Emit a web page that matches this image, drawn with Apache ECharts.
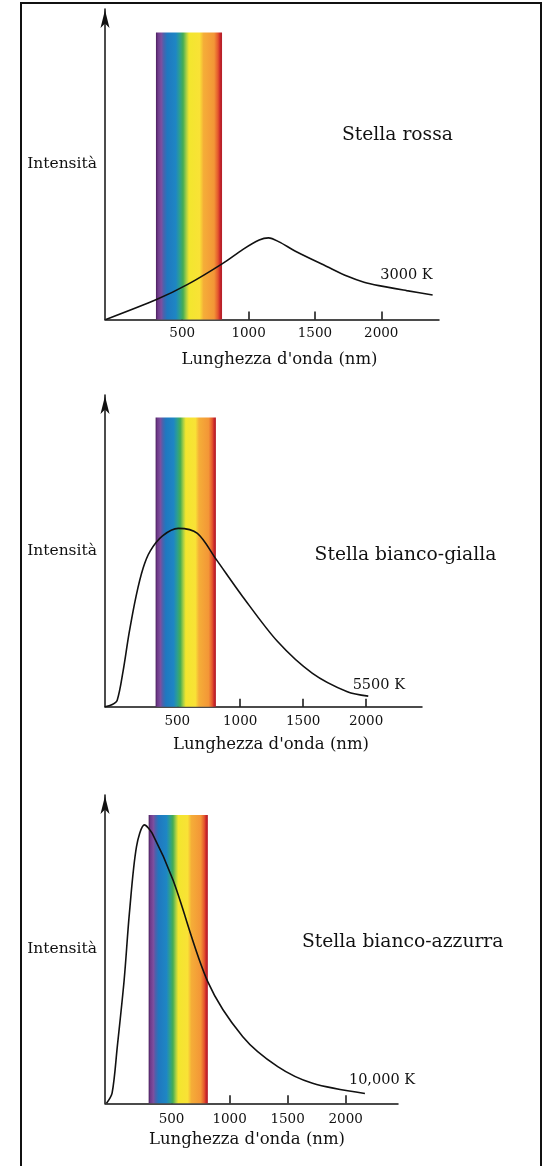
<!DOCTYPE html>
<html>
<head>
<meta charset="utf-8">
<title>Spettro di corpo nero</title>
<script src="https://cdn.jsdelivr.net/npm/echarts@6/dist/echarts.min.js"></script>
<style>
  html, body { margin: 0; padding: 0; background: #ffffff; }
  #chart { width: 545px; height: 1166px; }
</style>
</head>
<body>
<div id="chart"></div>
<script>
// Tick marks on every wavelength axis (nm)
const wavelengthTicks = [500, 1000, 1500, 2000];

// Stella rossa, 3000 K — wavelength (nm) and relative intensity
const redWavelength = [-75, 310, 541, 803, 958, 1080, 1150, 1230, 1353, 1589, 1746, 1870, 1982, 2191, 2387];
const redIntensity  = [0, 6.5, 11.3, 18.0, 22.6, 25.6, 26.3, 25.0, 22.0, 17.1, 13.9, 12.0, 10.9, 9.3, 7.9];
const redBand = [302, 800, 92.4];        // visible strip: from nm, to nm, height

// Stella bianco-gialla, 5500 K
const yellowWavelength = [-74, -20, 23, 70, 117, 173, 229, 286, 383, 508, 660, 812, 1020, 1297, 1574, 1851, 2017];
const yellowIntensity  = [0, 0.6, 2.1, 11.5, 23.5, 35.5, 44.5, 50.0, 54.8, 57.2, 55.6, 47.1, 35.3, 20.9, 10.7, 4.8, 3.4];
const yellowBand = [328, 807, 92.8];

// Stella bianco-azzurra, 10,000 K
const blueWavelength = [-60, -12, 33, 92, 137, 198, 267, 333, 513, 813, 1114, 1415, 1715, 2166];
const blueIntensity  = [0, 3.3, 18.4, 40.0, 61.6, 83.2, 90.3, 87.6, 72.4, 39.4, 21.6, 11.9, 6.5, 3.2];
const blueBand = [303, 813, 93.5];

const starNames = ['Stella rossa', 'Stella bianco-gialla', 'Stella bianco-azzurra'];
const temperatures = ['3000 K', '5500 K', '10,000 K'];
const axisTitleX = "Lunghezza d'onda (nm)";
const axisTitleY = 'Intensità';

const SERIF = "'DejaVu Serif', 'Liberation Serif', serif";
const INK = '#111111';

// Rainbow fill of the visible strip
const rainbow = new echarts.graphic.LinearGradient(0, 0, 1, 0, [
  { offset: 0.00, color: '#4a1f5c' },
  { offset: 0.03, color: '#6e3a8a' },
  { offset: 0.08, color: '#7d4f9f' },
  { offset: 0.12, color: '#4863ae' },
  { offset: 0.17, color: '#1f78c0' },
  { offset: 0.30, color: '#1e86c4' },
  { offset: 0.36, color: '#2d9f8f' },
  { offset: 0.41, color: '#45ac55' },
  { offset: 0.46, color: '#a8cf45' },
  { offset: 0.50, color: '#f2e62e' },
  { offset: 0.66, color: '#f9e236' },
  { offset: 0.72, color: '#f5ae38' },
  { offset: 0.88, color: '#f39637' },
  { offset: 0.94, color: '#e4562d' },
  { offset: 0.97, color: '#c9252b' },
  { offset: 1.00, color: '#b01f27' }
]);

function pairs(xs, ys) { return xs.map((x, i) => [x, ys[i]]); }

// Per-panel layout: plot box, axis span, text placement
const layout = [
  { grid: { left: 105, top: 9,   width: 334, height: 310.5 }, xRange: [-82, 2435],
    labelMargin: 7, nameGap: 32, namePad: [0, 0, 0, 15],
    endLabel: { align: 'right', offset: [0, -20] }, title: [342, 135] },
  { grid: { left: 105, top: 395, width: 317, height: 311.7 }, xRange: [-74, 2444],
    labelMargin: 8, nameGap: 30, namePad: [0, 0, 0, 15],
    endLabel: { align: 'left', offset: [-15.6, -11] }, title: [314.6, 555] },
  { grid: { left: 105, top: 795, width: 293, height: 308.3 }, xRange: [-73, 2451],
    labelMargin: 9, nameGap: 28, namePad: [0, 9, 0, 0],
    endLabel: { align: 'left', offset: [-16, -13] }, title: [302, 942] }
];

const curves = [
  pairs(redWavelength, redIntensity),
  pairs(yellowWavelength, yellowIntensity),
  pairs(blueWavelength, blueIntensity)
];
const bands = [redBand, yellowBand, blueBand];

const arrowHead = 'path://M5,0 L10,20 L5,15 L0,20 Z';

const grids = [], xAxes = [], yAxes = [], series = [], texts = [];

layout.forEach((p, i) => {
  grids.push(Object.assign({ outerBoundsMode: 'none', containLabel: false }, p.grid));

  xAxes.push({
    type: 'value', gridIndex: i, min: p.xRange[0], max: p.xRange[1],
    name: axisTitleX, nameLocation: 'middle', nameGap: p.nameGap, nameMoveOverlap: false,
    nameTextStyle: { fontFamily: SERIF, fontSize: 16.5, color: INK, padding: p.namePad },
    axisLine: { show: true, onZero: false, lineStyle: { color: INK, width: 1.5 } },
    axisTick: { show: true, inside: true, length: 8, customValues: wavelengthTicks,
                lineStyle: { color: INK, width: 1.5 } },
    axisLabel: { show: true, customValues: wavelengthTicks, margin: p.labelMargin,
                 formatter: (v) => String(v),
                 fontFamily: SERIF, fontSize: 13.5, color: INK },
    splitLine: { show: false }
  });

  yAxes.push({
    type: 'value', gridIndex: i, min: 0, max: 100,
    name: axisTitleY, nameLocation: 'middle', nameRotate: 0, nameGap: 8, nameMoveOverlap: false,
    nameTextStyle: { fontFamily: SERIF, fontSize: 15.5, color: INK, align: 'right', verticalAlign: 'middle' },
    axisLine: { show: true, onZero: false, symbol: ['none', arrowHead], symbolSize: [9, 20],
                symbolOffset: [0, -10], lineStyle: { color: INK, width: 1.5 } },
    axisTick: { show: false }, axisLabel: { show: false }, splitLine: { show: false }
  });

  const b = bands[i];
  series.push({
    type: 'line', xAxisIndex: i, yAxisIndex: i, data: [], silent: true,
    markArea: {
      silent: true,
      itemStyle: { color: rainbow, borderWidth: 0 },
      data: [[{ xAxis: b[0], yAxis: 0 }, { xAxis: b[1], yAxis: b[2] }]]
    }
  });

  series.push({
    name: temperatures[i], type: 'line', xAxisIndex: i, yAxisIndex: i, z: 5,
    data: curves[i], smooth: 0.3, showSymbol: false, silent: true,
    lineStyle: { color: INK, width: 1.6 },
    endLabel: { show: true, formatter: '{a}', distance: 0, align: p.endLabel.align,
                verticalAlign: 'middle', offset: p.endLabel.offset,
                fontFamily: SERIF, fontSize: 14.5, color: INK }
  });

  texts.push({
    type: 'text', x: p.title[0], y: p.title[1], silent: true,
    style: { text: starNames[i], font: '18.7px ' + SERIF, fill: INK, align: 'left', verticalAlign: 'middle' }
  });
});

const chart = echarts.init(document.getElementById('chart'), null, { renderer: 'canvas' });
chart.setOption({
  animation: false,
  backgroundColor: '#ffffff',
  grid: grids,
  xAxis: xAxes,
  yAxis: yAxes,
  series: series,
  graphic: [
    { type: 'rect', silent: true, shape: { x: 21, y: 3, width: 520, height: 1190 },
      style: { fill: 'none', stroke: '#111111', lineWidth: 2 } }
  ].concat(texts)
});
</script>
</body>
</html>
